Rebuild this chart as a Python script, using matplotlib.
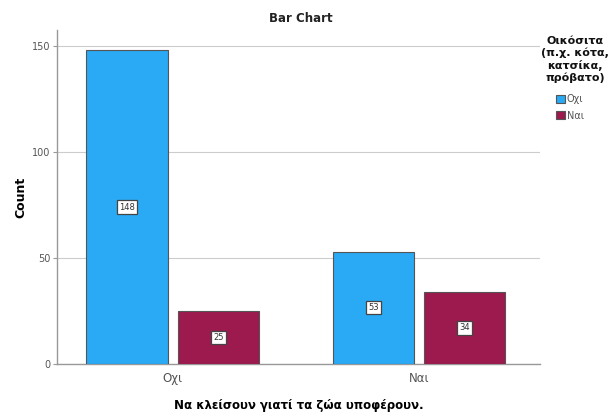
import numpy as np
import matplotlib.pyplot as plt

categories = ['Οχι', 'Ναι']
series_names = ['Οχι', 'Ναι']
counts_oxi = [148, 53]
counts_nai = [25, 34]

colors = ['#2aa9f4', '#9c1a4e']

fig = plt.figure(figsize=(6.14, 4.16), dpi=100)
ax = fig.add_axes([0.093, 0.125, 0.786, 0.803])

x = np.arange(len(categories))
w = 0.33
off = 0.186
b1 = ax.bar(x - off, counts_oxi, w, color=colors[0], edgecolor='#555555', linewidth=0.8,
            label=series_names[0], zorder=3)
b2 = ax.bar(x + off, counts_nai, w, color=colors[1], edgecolor='#555555', linewidth=0.8,
            label=series_names[1], zorder=3)

for bars, vals in [(b1, counts_oxi), (b2, counts_nai)]:
    for r, v in zip(bars, vals):
        ax.text(r.get_x() + r.get_width() / 2, v / 2, str(v), ha='center', va='center',
                fontsize=6, color='#333333', zorder=4,
                bbox=dict(boxstyle='square,pad=0.25', fc='white', ec='#444444', lw=0.9))

ax.set_xlim(-0.47, 1.49)
ax.set_ylim(0, 157.5)
ax.set_yticks([0, 50, 100, 150])
ax.set_xticks(x)
ax.set_xticklabels(categories)
ax.yaxis.grid(True, color='#cccccc', linewidth=0.8, zorder=0)
ax.set_axisbelow(True)

for s in ['top', 'right']:
    ax.spines[s].set_visible(False)
for s in ['left', 'bottom']:
    ax.spines[s].set_color('#999999')
    ax.spines[s].set_linewidth(1.0)
ax.tick_params(axis='y', length=3, color='#999999', labelsize=7, labelcolor='#555555', pad=2)
ax.tick_params(axis='x', length=0, labelsize=8.5, labelcolor='#555555', pad=6)

ax.set_ylabel('Count', fontsize=9, fontweight='bold', labelpad=3)
ax.set_xlabel('Να κλείσουν γιατί τα ζώα υποφέρουν.', fontsize=8.5, fontweight='bold', labelpad=10)
fig.text(0.49, 0.955, 'Bar Chart', ha='center', va='center', fontsize=8.5, fontweight='bold',
         color='#222222')

# legend title drawn separately so its line spacing can match
fig.text(575 / 614, 1 - 36 / 416, 'Οικόσιτα\n(π.χ. κότα,\nκατσίκα,\nπρόβατο)',
         ha='center', va='top', fontsize=8, fontweight='bold', linespacing=1.2,
         multialignment='center', color='#111111')
leg = fig.legend(handles=[b1, b2], labels=series_names, loc='upper left',
                 bbox_to_anchor=(556 / 614, 1 - 94 / 416), frameon=False, fontsize=7,
                 handlelength=0.9, handleheight=0.9, handletextpad=0.2, labelspacing=0.7,
                 borderaxespad=0, borderpad=0)
for t in leg.get_texts():
    t.set_color('#555555')

fig.savefig('out.png', dpi=100)
